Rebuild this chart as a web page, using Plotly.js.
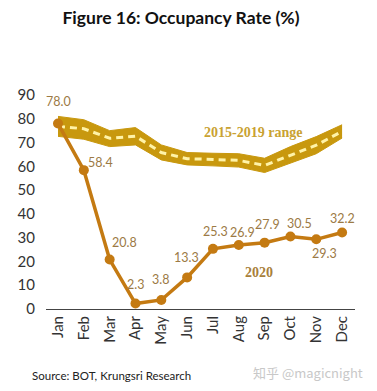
<!DOCTYPE html>
<html><head><meta charset="utf-8">
<script src="https://cdn.plot.ly/plotly-3.0.1.min.js"></script>
<style>html,body{margin:0;padding:0;background:#fff;}#chart{width:377px;height:391px;}</style>
</head><body><div id="chart"></div>
<script>
var months = ["Jan","Feb","Mar","Apr","May","Jun","Jul","Aug","Sep","Oct","Nov","Dec"];
var rangeUpper = [81, 79.6, 75, 76.3, 69, 65.8, 65.5, 65.3, 63.4, 68.3, 72.5, 77.5];
var rangeLower = [72.6, 71.4, 68.3, 69, 62.7, 60.6, 60.2, 59.7, 57.4, 61.3, 65.3, 71.9];
var rangeMid = [76.8, 75.8, 71.8, 72.7, 65.8, 63.2, 62.9, 62.5, 60.4, 64.8, 68.9, 74.7];
var occ2020 = [78.0, 58.4, 20.8, 2.3, 3.8, 13.3, 25.3, 26.9, 27.9, 30.5, 29.3, 32.2];
var labelOffX = [0, 17, 15, 0, -1, -1, 3, 4, 3, 9, 8, 0];
var labelOffY = [-22, -8, -17, -19, -20, -20, -17, -13, -18, -13, 14, -14];

var traces = [
  {x: months, y: rangeLower, mode: 'lines', line: {color: '#C8980E', width: 1}, hoverinfo: 'skip', showlegend: false},
  {x: months, y: rangeUpper, mode: 'lines', fill: 'tonexty', fillcolor: '#C8980E', line: {color: '#C8980E', width: 1}, hoverinfo: 'skip', showlegend: false},
  {x: months, y: rangeMid, mode: 'lines', line: {color: '#FFF3A8', width: 3, dash: '7px,5px'}, showlegend: false},
  {x: months, y: occ2020, mode: 'lines+markers', line: {color: '#C47A12', width: 3.5}, marker: {color: '#C47A12', size: 10}, cliponaxis: false, showlegend: false}
];

// plot area in pixels: x 46..355, y 95..309
function px(X){ return (X - 46) / 309; }
function py(Y){ return (309 - Y) / 214; }

var ann = occ2020.map(function(v, i){
  return {x: months[i], y: v, xref: 'x', yref: 'y', text: v.toFixed(1), showarrow: true, arrowcolor: 'rgba(0,0,0,0)', ax: labelOffX[i], ay: labelOffY[i],
    font: {family: 'Lato, sans-serif', size: 12.5, color: '#9C7A45'}};
});
ann.push({x: px(253), y: py(132), xref: 'paper', yref: 'paper', xanchor: 'center', yanchor: 'middle', text: '<b>2015-2019 range</b>', showarrow: false,
  font: {family: '"Liberation Serif", serif', size: 14, color: '#C9A232'}});
ann.push({x: px(259), y: py(272), xref: 'paper', yref: 'paper', xanchor: 'center', yanchor: 'middle', text: '<b>2020</b>', showarrow: false,
  font: {family: '"Liberation Serif", serif', size: 14, color: '#A8803A'}});
ann.push({x: px(30), y: py(375), xref: 'paper', yref: 'paper', xanchor: 'left', yanchor: 'middle', text: 'Source: BOT, Krungsri Research', showarrow: false,
  font: {family: 'Lato, sans-serif', size: 11.5, color: '#222'}});
ann.push({x: px(365), y: py(372), xref: 'paper', yref: 'paper', xanchor: 'right', yanchor: 'middle', text: '知乎 @magicnight', showarrow: false,
  font: {family: '"Noto Sans CJK SC", sans-serif', size: 13, color: '#C8C8C8'}});

var layout = {
  width: 377, height: 391,
  margin: {l: 46, r: 22, t: 95, b: 82},
  paper_bgcolor: '#fff', plot_bgcolor: '#fff',
  title: {text: '<b>Figure 16: Occupancy Rate (%)</b>', x: 0.48, xref: 'container', y: 1 - 18/391, yref: 'container', yanchor: 'middle',
    font: {family: 'Lato, sans-serif', size: 17.5, color: '#111'}},
  xaxis: {type: 'category', range: [-0.465, 11.5], showgrid: false, zeroline: false, showline: true, linecolor: '#444', linewidth: 1,
    tickangle: -90, ticks: '', tickfont: {family: 'Lato, sans-serif', size: 15, color: '#333'}, fixedrange: true},
  yaxis: {range: [0, 90], dtick: 10, showgrid: false, zeroline: false, showline: false, ticks: '', ticklabelstandoff: 10,
    tickfont: {family: 'Lato, sans-serif', size: 15, color: '#333'}, fixedrange: true},
  annotations: ann
};
Plotly.newPlot('chart', traces, layout, {displayModeBar: false, staticPlot: true});
</script></body></html>
